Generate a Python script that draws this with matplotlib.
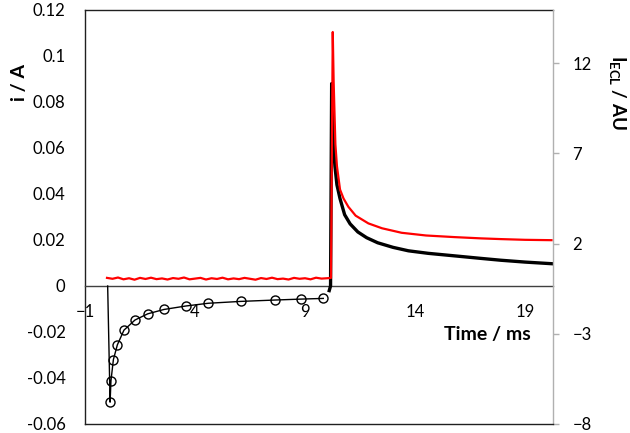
import matplotlib
matplotlib.use("Agg")
import matplotlib.pyplot as plt
from matplotlib.ticker import FuncFormatter

plt.rcParams['font.family'] = ['Lato', 'DejaVu Sans']
plt.rcParams['mathtext.fontset'] = 'custom'
plt.rcParams['mathtext.rm'] = 'Lato'
plt.rcParams['mathtext.bf'] = 'Lato:bold'

# Cathodic current transient (circles), left axis
t_cath = [0.03, 0.14, 0.18, 0.29, 0.47, 0.77, 1.27, 1.85, 2.59, 3.58, 4.61, 6.07, 7.64, 8.80, 9.83]
i_cath = [0.0, -0.0505, -0.0412, -0.0320, -0.0256, -0.0192, -0.0148, -0.0121, -0.0102,
          -0.0087, -0.0075, -0.0067, -0.0061, -0.0057, -0.0054]

# Anodic current transient (thick black), left axis
t_anod = [10.10, 10.16, 10.21, 10.25, 10.30, 10.36, 10.45, 10.59, 10.80, 11.05, 11.40, 11.80,
          12.30, 13.00, 13.70, 14.60, 15.80, 17.00, 17.90, 19.00, 20.20]
i_anod = [-0.002, 0.0, 0.088, 0.072, 0.060, 0.052, 0.044, 0.038, 0.031, 0.027, 0.0235, 0.021,
          0.0188, 0.0168, 0.0153, 0.0142, 0.0131, 0.0120, 0.0112, 0.0104, 0.0097]

# ECL intensity (red), right axis
t_ecl = [0.00, 0.25, 0.50, 0.75, 1.00, 1.25, 1.50, 1.75, 2.00, 2.25, 2.50, 2.75, 3.00, 3.25,
         3.50, 3.75, 4.00, 4.25, 4.50, 4.75, 5.00, 5.25, 5.50, 5.75, 6.00, 6.25, 6.50, 6.75,
         7.00, 7.25, 7.50, 7.75, 8.00, 8.25, 8.50, 8.75, 9.00, 9.25, 9.50, 9.75, 10.00,
         10.18, 10.26, 10.30, 10.34, 10.38, 10.45, 10.59, 10.75, 10.97, 11.30, 11.88, 12.50,
         13.39, 14.50, 15.80, 17.00, 17.90, 19.00, 20.20]
ecl = [0.10, 0.05, 0.12, 0.02, 0.08, 0.00, 0.10, 0.04, 0.11, 0.03, 0.07, 0.01, 0.09, 0.05,
       0.12, 0.02, 0.06, 0.10, 0.01, 0.08, 0.04, 0.11, 0.02, 0.07, 0.03, 0.10, 0.05, 0.00,
       0.09, 0.04, 0.11, 0.03, 0.06, 0.01, 0.10, 0.05, 0.08, 0.02, 0.11, 0.06, 0.08,
       0.10, 13.73, 11.0, 9.2, 7.5, 6.3, 5.0, 4.5, 4.04, 3.55, 3.12, 2.85,
       2.60, 2.45, 2.36, 2.29, 2.25, 2.21, 2.19]

x_ticks = [-1, 4, 9, 14, 19]
left_ticks = [-0.06, -0.04, -0.02, 0, 0.02, 0.04, 0.06, 0.08, 0.1, 0.12]
right_ticks = [-8, -3, 2, 7, 12]

fig = plt.figure(figsize=(6.3, 4.33), dpi=100)
ax = fig.add_axes([85/630, 1-424/433, 468/630, 414/433])
ax2 = ax.twinx()

ax.plot(t_cath, i_cath, color='black', lw=1.0, marker='o', ms=6.5, mfc='none', mec='black',
        mew=1.0, markevery=list(range(1, len(t_cath))), zorder=3)
ax.plot(t_anod, i_anod, color='black', lw=2.4, zorder=3)
ax2.plot(t_ecl, ecl, color='#ff0000', lw=1.6, zorder=4)

ax.set_xlim(-1, 20.27)
ax.set_ylim(-0.06, 0.12)
ax2.set_ylim(-8, 14.95)

ax.set_xticks(x_ticks)
ax.set_yticks(left_ticks)
ax2.set_yticks(right_ticks)
ax.yaxis.set_major_formatter(FuncFormatter(lambda v, p: '{:g}'.format(round(v, 4)) if abs(v) > 1e-9 else '0'))

ax.spines['bottom'].set_position(('data', 0))
ax.spines['bottom'].set_color('#404040')
ax.spines['bottom'].set_linewidth(1.0)
for s in ['left', 'top']:
    ax.spines[s].set_color('#202020')
    ax.spines[s].set_linewidth(1.0)
ax.spines['right'].set_visible(False)
ax2.spines['left'].set_visible(False)
ax2.spines['top'].set_visible(False)
ax2.spines['bottom'].set_color('#202020')
ax2.spines['bottom'].set_linewidth(1.0)
ax2.spines['right'].set_color('#b0b0b0')
ax2.spines['right'].set_linewidth(1.0)

ax.tick_params(axis='x', length=0, pad=13, labelsize=12, colors='black')
ax.tick_params(axis='y', length=0, pad=14, labelsize=12)
ax2.tick_params(axis='y', length=4, width=1.0, color='#b0b0b0', direction='out', pad=10,
                labelsize=12)

ax.set_ylabel('i / A', fontsize=14, fontweight='bold', va='center')
ax.yaxis.set_label_coords(-0.139, 0.826)
ax2.set_ylabel(r'I$_{\mathbf{ECL}}$ / AU', fontsize=13.5, fontweight='bold', rotation=270,
               va='center')
ax2.yaxis.set_label_coords(1.137, 0.80)
ax.set_xlabel('Time / ms', fontsize=14, fontweight='bold', va='center')
ax.xaxis.set_label_coords(0.859, 0.215)

fig.savefig('out.png', dpi=100)
